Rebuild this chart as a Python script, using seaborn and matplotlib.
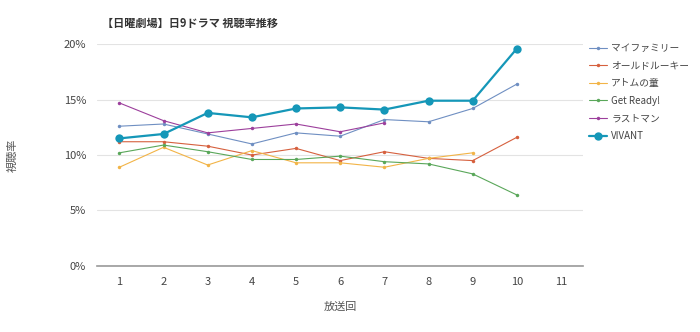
import pandas as pd
import matplotlib
matplotlib.use("Agg")
import matplotlib.pyplot as plt
from matplotlib.ticker import FuncFormatter
import seaborn as sns

episodes = list(range(1, 11))
my_family = [12.6, 12.8, 11.9, 11.0, 12.0, 11.7, 13.2, 13.0, 14.2, 16.4]
old_rookie = [11.2, 11.2, 10.8, 10.0, 10.6, 9.5, 10.3, 9.7, 9.5, 11.6]
atom = [8.9, 10.7, 9.1, 10.4, 9.3, 9.3, 8.9, 9.7, 10.2]
get_ready = [10.2, 10.9, 10.3, 9.6, 9.6, 9.9, 9.4, 9.2, 8.3, 6.4]
last_man = [14.7, 13.1, 12.0, 12.4, 12.8, 12.1, 12.9]
vivant = [11.5, 11.9, 13.8, 13.4, 14.2, 14.3, 14.1, 14.9, 14.9, 19.6]

series = {
    "マイファミリー": my_family,
    "オールドルーキー": old_rookie,
    "アトムの童": atom,
    "Get Ready!": get_ready,
    "ラストマン": last_man,
    "VIVANT": vivant,
}
colors = ["#6f8fc2", "#d6603e", "#f2b447", "#5aa75a", "#9c3f9c", "#1597b8"]

rows = []
for name, vals in series.items():
    for ep, v in zip(episodes, vals):
        rows.append({"drama": name, "ep": ep, "rate": v})
df = pd.DataFrame(rows)

sns.set_style("white")
plt.rcParams['font.family'] = ['Noto Sans CJK JP', 'DejaVu Sans']

fig, ax = plt.subplots(figsize=(7.0, 3.32), dpi=100)
fig.subplots_adjust(left=0.139, right=0.833, top=0.867, bottom=0.199)

for (name, vals), c in zip(series.items(), colors):
    sub = df[df["drama"] == name]
    big = name == "VIVANT"
    sns.lineplot(data=sub, x="ep", y="rate", ax=ax, color=c, label=name,
                 marker="o", markersize=6 if big else 2.5,
                 markeredgewidth=0, linewidth=1.6 if big else 0.8)

ax.set_xlim(0.5, 11.5)
ax.set_ylim(0, 20)
ax.set_xticks(range(1, 12))
ax.set_yticks([0, 5, 10, 15, 20])
ax.yaxis.set_major_formatter(FuncFormatter(lambda v, p: f"{int(v)}%"))
ax.grid(axis="y", color="#e3e3e3", linewidth=0.8)
ax.set_axisbelow(True)
for s in ["top", "right", "left"]:
    ax.spines[s].set_visible(False)
ax.spines["bottom"].set_color("#999999")
ax.spines["bottom"].set_linewidth(1.2)
ax.tick_params(axis="both", length=0, labelsize=8, colors="#444444", pad=8)

ax.set_xlabel("放送回", fontsize=8, style="italic", color="#555555")
ax.xaxis.set_label_coords(0.5, -0.16)
ax.set_ylabel("視聴率", fontsize=8, style="italic", color="#555555")
ax.yaxis.set_label_coords(-0.163, 0.5)
fig.text(0.145, 0.92, "【日曜劇場】日9ドラマ 視聴率推移", fontsize=8, fontweight="bold", color="#333333")

leg = ax.legend(loc="upper left", bbox_to_anchor=(1.012, 1.005), frameon=False,
                fontsize=7, handlelength=1.9, handletextpad=0.4,
                labelspacing=0.78, borderaxespad=0, borderpad=0)
for t in leg.get_texts():
    t.set_color("#444444")

plt.savefig("out.png", dpi=100)
